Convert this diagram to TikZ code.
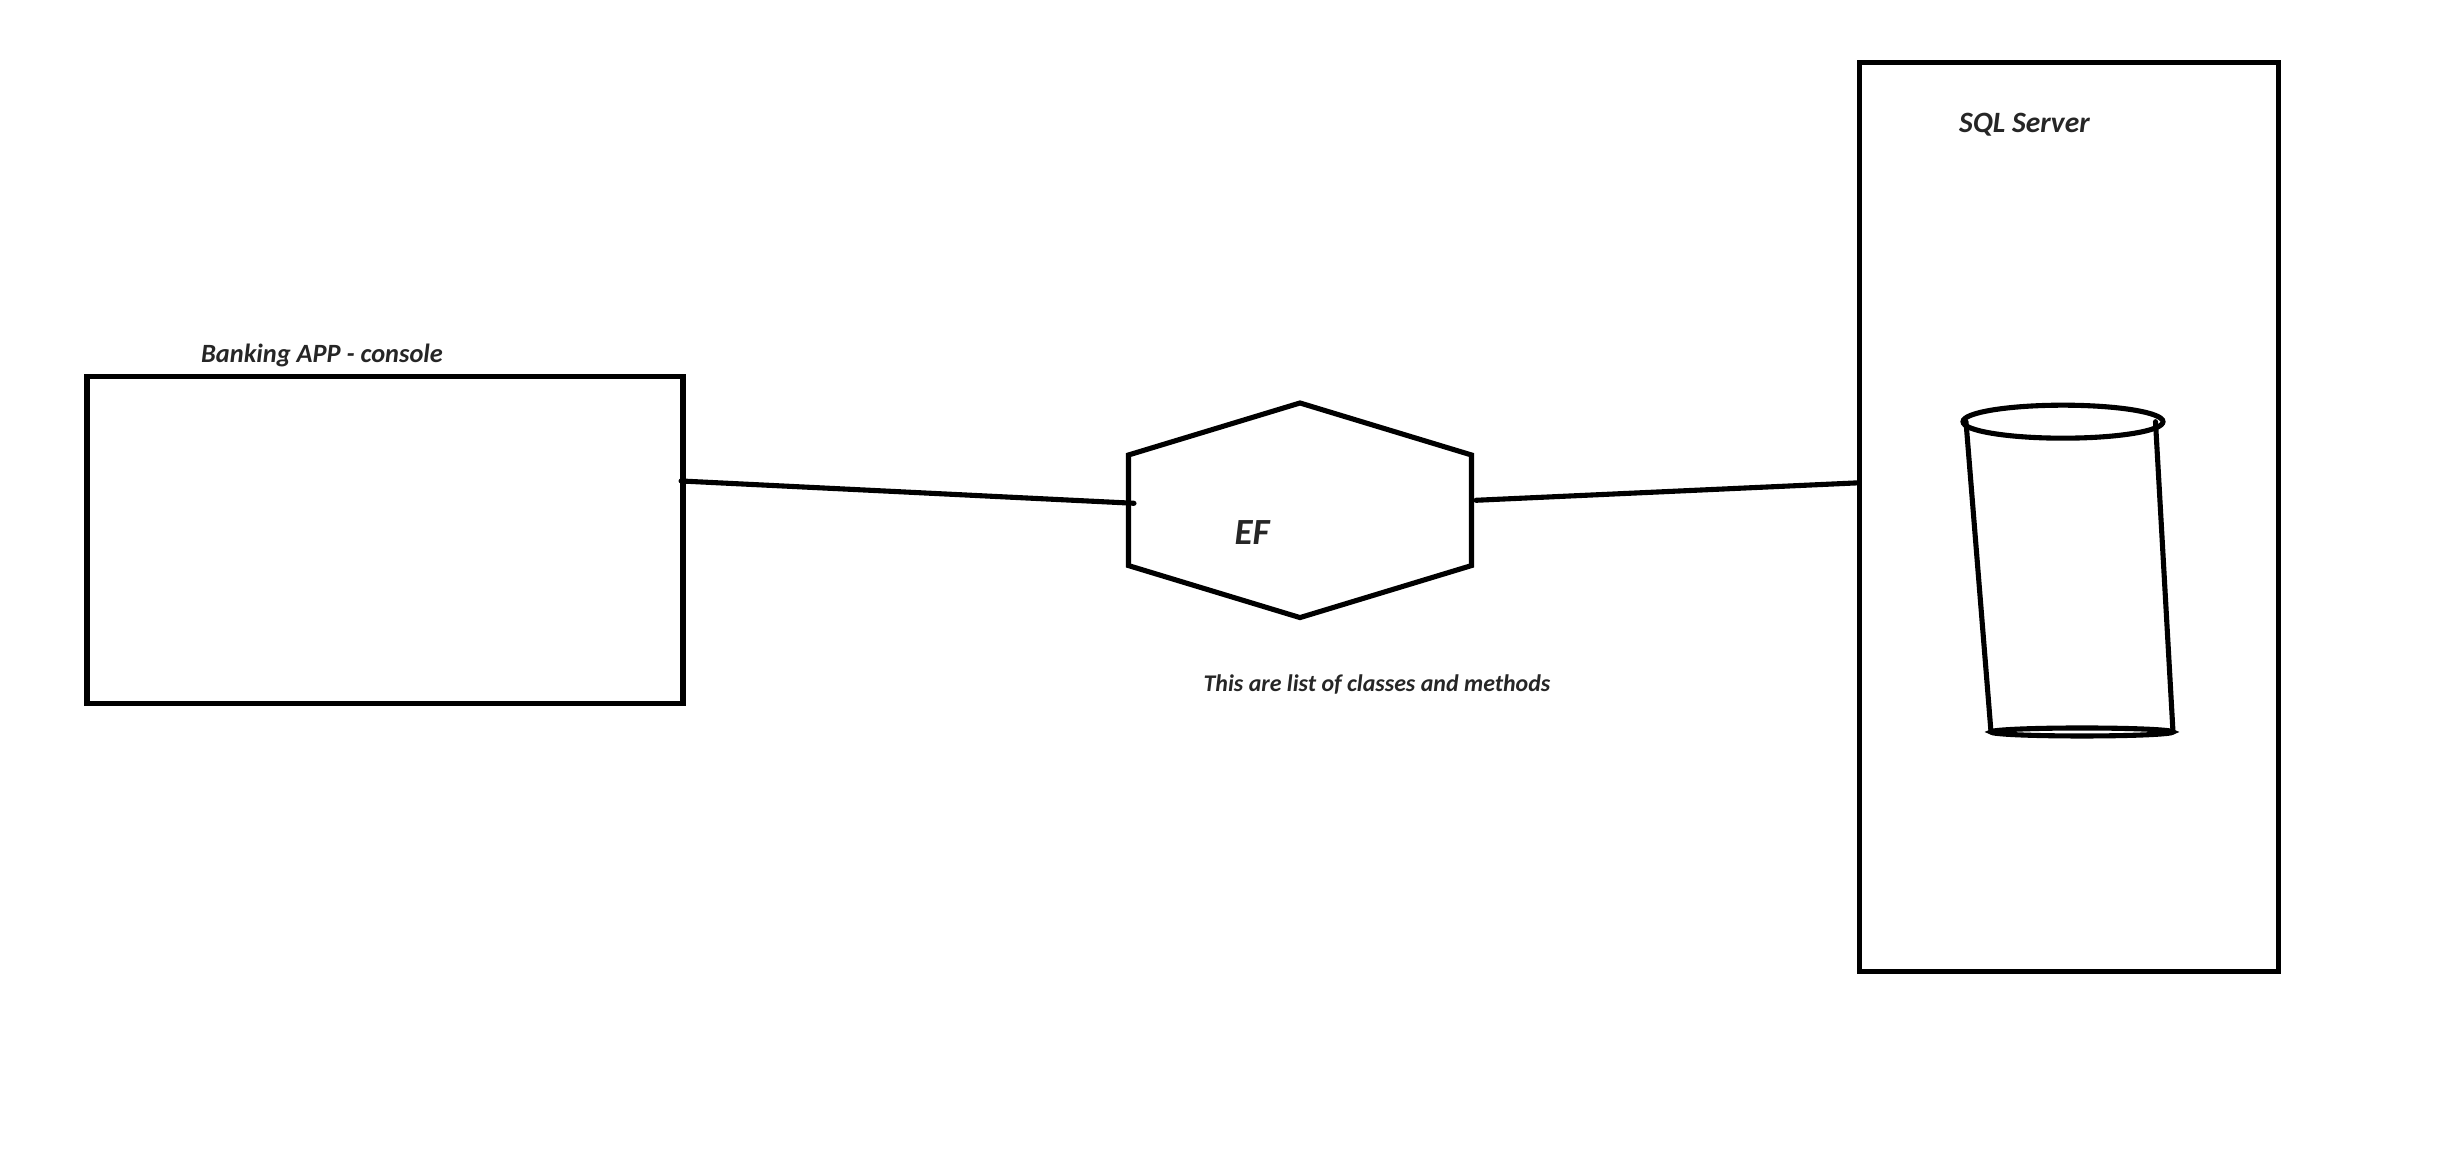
\documentclass[tikz,border=0pt]{standalone}
\usepackage{fontspec}
\setmainfont{Carlito}
\usetikzlibrary{shapes.geometric}
\begin{document}
\begin{tikzpicture}[
  line width=1.45pt,
  line cap=round,
  box/.style={draw,rectangle,inner sep=0pt},
  label/.style={text=black!85,inner sep=0pt},
  rim/.style={draw,ellipse,inner sep=0pt,outer sep=0pt}
]
\useasboundingbox (0,0) rectangle (24.58,11.58);

% Banking app
\node[box,minimum width=5.96cm,minimum height=3.27cm] (app) at (3.85,6.18) {};
\node[label,font=\fontsize{7.5}{9}\selectfont\bfseries\itshape] (applabel) at (3.22,8.03) {Banking APP - console};

% EF layer
\node[inner sep=0pt,outer sep=0pt,minimum width=3.43cm,minimum height=2.146cm] (ef) at (13.0,6.477) {};
\draw[line cap=butt] (ef.north) -- ([yshift=-.52cm]ef.north east) -- ([yshift=.52cm]ef.south east)
  -- (ef.south) -- ([yshift=.52cm]ef.south west) -- ([yshift=-.52cm]ef.north west) -- cycle;
\node[label,font=\fontsize{10.5}{13}\selectfont\bfseries\itshape] (eflabel) at (12.52,6.25) {EF};
\node[label,font=\fontsize{6.8}{9}\selectfont\bfseries\itshape] (eftext) at (13.77,4.735) {This are list of classes and methods};

% SQL Server
\node[box,minimum width=4.185cm,minimum height=9.09cm] (server) at (20.69,6.406) {};
\node[label,font=\fontsize{8.4}{10}\selectfont\bfseries\itshape] (serverlabel) at (20.245,10.33) {SQL Server};

% Database
\node[rim,minimum width=2cm,minimum height=.33cm] (dbtop) at (20.63,7.363) {};
\node[rim,minimum width=1.82cm,minimum height=.08cm] (dbbottom) at (20.82,4.26) {};
\draw ([xshift=.03cm]dbtop.west) -- (dbbottom.west);
\draw ([xshift=-.075cm]dbtop.east) -- (dbbottom.east);

% Connectors
\draw ([xshift=-.045cm,yshift=.59cm]app.east) -- ([xshift=.055cm,yshift=.07cm]ef.west);
\draw ([xshift=.045cm,yshift=.10cm]ef.east) -- ([yshift=.345cm]server.west);

\end{tikzpicture}
\end{document}
